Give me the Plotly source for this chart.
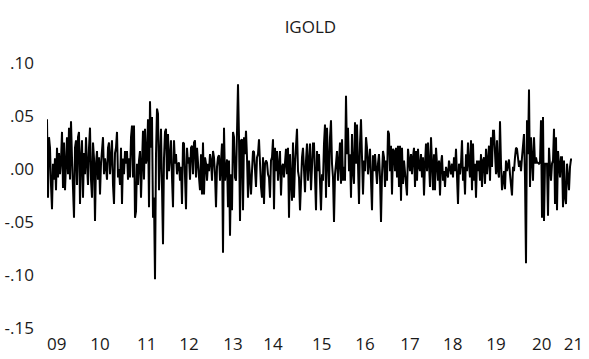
import plotly.graph_objects as go

# Weekly IGOLD returns (in order, 2009 -> early 2021)
seg_2009_2010 = [
    0.047, -0.027, 0.030, 0.020, -0.015, -0.038, 0.005, -0.010, 0.010, -0.020,
    0.020, -0.008, 0.015, -0.005, 0.008, 0.035, -0.018, 0.025, -0.020, 0.010,
    0.030, -0.005, 0.039, -0.010, 0.045, 0.010, -0.025, -0.046, 0.020, 0.027,
    -0.015, 0.030, 0.035, -0.033, 0.010, 0.027, -0.027, 0.015, -0.005, 0.030,
    0.005, -0.015, 0.020, 0.039, -0.010, -0.027, 0.025, 0.010, -0.049, 0.005,
    0.017, -0.010, 0.011, -0.024, 0.005, 0.015, 0.030, -0.005, 0.010, 0.002,
    -0.010, 0.020, 0.025, -0.005, 0.015, 0.027, -0.015, -0.033, 0.015, 0.020,
    0.035, -0.008, 0.000, -0.015, 0.020, -0.033, 0.010, -0.005, 0.017, 0.005,
    0.017, -0.010, 0.010, -0.008, 0.030, 0.041, -0.008,
]
seg_2011_2012 = [
    0.041, -0.046, -0.040, 0.005, -0.015, 0.008, 0.017, -0.027, 0.010, 0.036,
    -0.010, 0.038, 0.005, 0.011, 0.047, -0.036, 0.064, 0.020, 0.049, -0.046,
    -0.027, -0.104, 0.014, 0.057, 0.052, -0.020, 0.010, 0.038, -0.017, -0.071,
    0.010, 0.035, 0.038, -0.010, 0.033, -0.002, 0.011, 0.027, -0.008, -0.036,
    0.027, 0.005, 0.014, -0.005, 0.005, 0.006, -0.011, 0.002, -0.033, 0.025,
    0.024, -0.002, -0.038, 0.020, 0.005, 0.011, -0.010, 0.020, 0.022, -0.005,
    0.025, 0.027, -0.008, 0.020, -0.002, -0.008, -0.020, 0.014, -0.024, 0.025,
    -0.024, 0.011, 0.005, -0.011, 0.005, -0.002, 0.014, 0.008, -0.011, 0.017,
    0.011, -0.005, -0.036, 0.002, 0.011, 0.013, -0.011, 0.005, 0.024, -0.079,
]
seg_2013_2014 = [
    0.039, -0.011, -0.002, 0.009, -0.036, 0.008, -0.063, -0.005, -0.039, 0.035,
    0.030, -0.008, -0.011, 0.052, 0.080, 0.030, -0.049, 0.027, 0.028, -0.039,
    0.030, 0.014, 0.036, 0.011, -0.027, 0.008, -0.011, -0.024, -0.002, 0.017,
    0.016, -0.002, -0.017, 0.011, 0.014, 0.028, -0.002, -0.017, -0.027, 0.011,
    -0.033, 0.005, 0.008, 0.006, -0.005, -0.008, -0.027, 0.008, 0.011, 0.028,
    -0.038, 0.020, -0.002, 0.017, -0.011, 0.011, 0.017, -0.025, 0.002, 0.005,
    -0.008, 0.006, 0.019, -0.005, 0.020, -0.046, 0.014, -0.011, -0.030, 0.025,
    -0.027, 0.005, 0.017, 0.038, -0.002, -0.008, -0.039, -0.002, 0.011, 0.020,
    -0.002, -0.022, 0.008, 0.024, -0.011, 0.005, 0.024, -0.020, 0.008, 0.024,
]
seg_2015_2016 = [
    0.024, -0.014, -0.039, 0.017, -0.002, 0.014, -0.017, -0.039, -0.005, -0.011,
    0.024, 0.042, -0.027, 0.039, 0.008, -0.017, 0.030, 0.046, 0.005, -0.008,
    -0.050, -0.005, 0.005, 0.017, -0.011, 0.011, 0.025, -0.014, 0.028, -0.011,
    0.002, -0.011, 0.069, 0.014, 0.039, -0.002, 0.014, -0.027, 0.033, -0.002,
    -0.014, 0.044, 0.005, 0.042, 0.014, -0.033, 0.024, 0.047, 0.011, -0.024,
    0.008, -0.002, 0.030, 0.020, -0.005, 0.011, 0.019, -0.011, -0.039, 0.013,
    -0.002, 0.014, 0.002, -0.014, 0.005, 0.014, -0.008, -0.050, -0.005, 0.017,
    0.011, -0.017, 0.008, -0.011, 0.036, 0.033, -0.002, 0.022, -0.024, 0.019,
    0.017, -0.002, 0.020, -0.008, 0.022, -0.017, 0.022, -0.030, 0.020, -0.014,
]
seg_2017_2018 = [
    0.008, -0.002, -0.011, -0.025, 0.019, 0.008, -0.002, 0.014, -0.005, 0.011,
    0.020, -0.017, 0.017, -0.011, 0.019, 0.002, -0.002, 0.014, -0.008, 0.011,
    -0.025, 0.005, 0.024, -0.002, 0.025, 0.005, -0.017, 0.030, 0.002, -0.020,
    0.014, -0.020, 0.020, -0.002, -0.011, 0.008, -0.025, 0.005, 0.013, -0.011,
    -0.002, -0.017, 0.002, -0.002, -0.008, 0.008, 0.002, -0.005, 0.005, -0.008,
    0.011, -0.002, 0.019, -0.002, -0.033, 0.005, -0.005, 0.005, 0.027, -0.011,
    0.002, -0.024, 0.014, -0.002, 0.025, 0.005, -0.008, 0.027, -0.020, 0.024,
    -0.011, 0.005, -0.027, 0.008, -0.002, 0.008, -0.011, 0.014, -0.017, 0.008,
    0.011, -0.014, 0.019, -0.005, 0.014, 0.022, -0.011, 0.030, 0.002, 0.036,
]
seg_2019_2021 = [
    0.036, 0.005, -0.005, 0.027, -0.002, -0.008, 0.045, 0.005, -0.020, -0.011,
    -0.002, -0.019, 0.008, -0.002, 0.002, 0.009, -0.005, -0.020, -0.025, 0.002,
    -0.002, 0.011, 0.020, 0.019, 0.009, 0.002, 0.008, -0.002, 0.011, 0.020,
    0.033, -0.008, -0.089, 0.046, 0.014, 0.075, -0.017, 0.030, -0.002, -0.011,
    0.030, 0.005, 0.011, 0.006, 0.006, 0.005, 0.006, 0.046, -0.046, 0.049,
    -0.049, 0.005, 0.005, 0.005, -0.044, 0.020, 0.002, -0.011, 0.005, 0.008,
    0.038, -0.033, 0.030, -0.039, 0.017, -0.002, -0.008, 0.011, 0.011, -0.036,
    0.008, -0.027, -0.033, 0.005, -0.008, -0.020, 0.002, 0.009, 0.009,
]

igold = (seg_2009_2010 + seg_2011_2012 + seg_2013_2014
         + seg_2015_2016 + seg_2017_2018 + seg_2019_2021)
obs = list(range(len(igold)))

year_labels = ["09", "10", "11", "12", "13", "14", "15", "16", "17", "18", "19", "20", "21"]
y_tick_values = [0.10, 0.05, 0.00, -0.05, -0.10, -0.15]
y_tick_labels = [".10", ".05", ".00", "-.05", "-.10", "-.15"]

# observation positions where the year labels sit
year_tick_pos = [9.7, 53, 99.7, 142, 186, 226, 274.7, 318, 363, 405.7, 449, 494.7, 526.5]

font_family = "Open Sans, Noto Sans, sans-serif"

fig = go.Figure()
fig.add_trace(go.Scatter(
    x=obs, y=igold, mode="lines",
    line=dict(color="black", width=2),
    showlegend=False, hoverinfo="skip",
))

fig.update_layout(
    width=589, height=359,
    margin=dict(l=47, r=15, t=63, b=31, autoexpand=False),
    paper_bgcolor="white", plot_bgcolor="white",
    font=dict(family=font_family, size=17, color="#1a1a1a"),
    title=dict(text="IGOLD", x=0.527, xanchor="center", y=1 - 27 / 359,
               yanchor="middle", font=dict(size=17, color="#1a1a1a")),
)
fig.update_xaxes(
    range=[0, 527], showgrid=False, zeroline=False, showline=False,
    tickmode="array", tickvals=year_tick_pos, ticktext=year_labels,
    ticks="", ticklabelstandoff=4, automargin=False,
)
fig.update_yaxes(
    range=[-0.15, 0.10], showgrid=False, zeroline=False, showline=False,
    tickmode="array", tickvals=y_tick_values, ticktext=y_tick_labels,
    ticks="", ticklabelstandoff=12, automargin=False,
)

fig.write_html("out.html")
